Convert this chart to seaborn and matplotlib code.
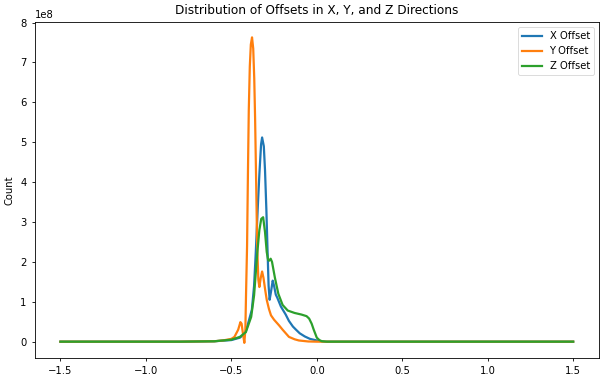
import numpy as np
import pandas as pd
import matplotlib
matplotlib.use("Agg")
import matplotlib.pyplot as plt
import seaborn as sns

# values in units of 1e8 counts
x_off_x = [-1.5, -0.8, -0.6, -0.5, -0.45, -0.43, -0.416, -0.396, -0.38, -0.367, -0.357, -0.345,
           -0.336, -0.326, -0.32, -0.31, -0.303, -0.295, -0.289, -0.282, -0.276, -0.268, -0.258,
           -0.25, -0.24, -0.231, -0.21, -0.182, -0.163, -0.14, -0.124, -0.1, -0.07, -0.04, -0.01,
           0.02, 0.05, 1.5]
x_off_y = [0, 0, 0.01, 0.04, 0.10, 0.17, 0.25, 0.55, 0.8, 1.4, 2.24, 3.4,
           4.2, 4.95, 5.12, 4.9, 4.3, 3.3, 2.4, 1.4, 1.05, 1.25, 1.53,
           1.4, 1.18, 1.1, 0.88, 0.68, 0.52, 0.38, 0.31, 0.21, 0.13, 0.07, 0.04,
           0.015, 0, 0]

y_off_x = [-1.5, -0.8, -0.6, -0.55, -0.5, -0.482, -0.46, -0.447, -0.44, -0.432, -0.424,
           -0.418, -0.414, -0.408, -0.403, -0.398, -0.392, -0.386, -0.379, -0.372, -0.366,
           -0.361, -0.356, -0.349, -0.342, -0.336, -0.328, -0.32, -0.312, -0.302, -0.293,
           -0.28, -0.268, -0.25, -0.221, -0.2, -0.163, -0.13, -0.105, -0.05, 0.0, 1.5]
y_off_y = [0, 0, 0.01, 0.03, 0.07, 0.12, 0.3, 0.49, 0.45, 0.2, -0.03,
           0.3, 1.2, 2.4, 4.2, 5.8, 6.9, 7.45, 7.63, 7.35, 6.6,
           5.6, 4.3, 2.4, 1.55, 1.37, 1.6, 1.76, 1.6, 1.3, 1.05,
           0.82, 0.66, 0.55, 0.41, 0.3, 0.12, 0.06, 0.03, 0.005, 0, 0]

z_off_x = [-1.5, -0.8, -0.6, -0.5, -0.45, -0.415, -0.384, -0.367, -0.348, -0.336, -0.325,
           -0.314, -0.303, -0.293, -0.285, -0.279, -0.27, -0.262, -0.245, -0.225, -0.2,
           -0.17, -0.13, -0.09, -0.06, -0.045, -0.03, -0.018, 0.0, 0.015, 0.03, 0.06, 1.5]
z_off_y = [0, 0, 0.01, 0.05, 0.12, 0.24, 0.62, 1.16, 2.24, 2.8, 3.08,
           3.12, 2.75, 2.25, 2.05, 2.03, 2.08, 2.0, 1.6, 1.2, 0.92,
           0.78, 0.72, 0.68, 0.64, 0.58, 0.45, 0.3, 0.1, 0.04, 0.01, 0, 0]

labels = ["X Offset", "Y Offset", "Z Offset"]

frames = []
for lab, xs, ys in zip(labels, [x_off_x, y_off_x, z_off_x], [x_off_y, y_off_y, z_off_y]):
    frames.append(pd.DataFrame({"offset": xs, "count": np.array(ys) * 1e8, "series": lab}))
df = pd.concat(frames, ignore_index=True)

plt.rcParams['font.family'] = ['DejaVu Sans']
fig = plt.figure(figsize=(6, 3.81), dpi=100)
ax = fig.add_axes([0.058, 0.060, 0.940, 0.882])
sns.lineplot(data=df, x="offset", y="count", hue="series", hue_order=labels,
             palette=["#1f77b4", "#ff7f0e", "#2ca02c"], sort=False, linewidth=1.6,
             estimator=None, ax=ax)
ax.set_title("Distribution of Offsets in X, Y, and Z Directions", fontsize=8.7)
ax.set_xlabel("")
ax.set_ylabel("Count", fontsize=7.2)
ax.tick_params(labelsize=7.2, length=2.5, width=0.6)
for s in ax.spines.values():
    s.set_linewidth(0.6)
ax.yaxis.get_offset_text().set_fontsize(7.2)
ax.set_xticks([-1.5, -1.0, -0.5, 0.0, 0.5, 1.0, 1.5])
ax.set_yticks(np.arange(0, 9) * 1e8)
leg = ax.legend(loc="upper right", fontsize=7.2, frameon=True)
leg.get_frame().set_linewidth(0.6)
fig.savefig("out.png", dpi=100)
